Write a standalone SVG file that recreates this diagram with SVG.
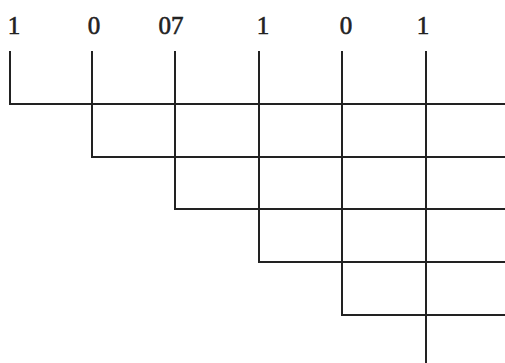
<svg xmlns="http://www.w3.org/2000/svg" width="505" height="363" viewBox="0 0 505 363">
<style>
.lbl{font-family:"Liberation Serif","Times New Roman",serif;font-size:25px;fill:#222;stroke:#222;stroke-width:0.6;text-anchor:middle}
.ln{stroke:#222;stroke-width:2;fill:none}
</style>
<rect width="505" height="363" fill="#fff"/>
<g id="labels">
<text class="lbl" x="14" y="34">1</text>
<text class="lbl" x="94" y="34">0</text>
<text class="lbl" x="171" y="34">07</text>
<text class="lbl" x="263" y="34">1</text>
<text class="lbl" x="346" y="34">0</text>
<text class="lbl" x="423" y="34">1</text>
</g>
<g id="connectors">
<path class="ln" d="M10,51 V104 H505"/>
<path class="ln" d="M92,51 V157 H505"/>
<path class="ln" d="M175,51 V209 H505"/>
<path class="ln" d="M259,51 V262 H505"/>
<path class="ln" d="M342,51 V315 H505"/>
<path class="ln" d="M426,51 V363"/>
</g>
</svg>
